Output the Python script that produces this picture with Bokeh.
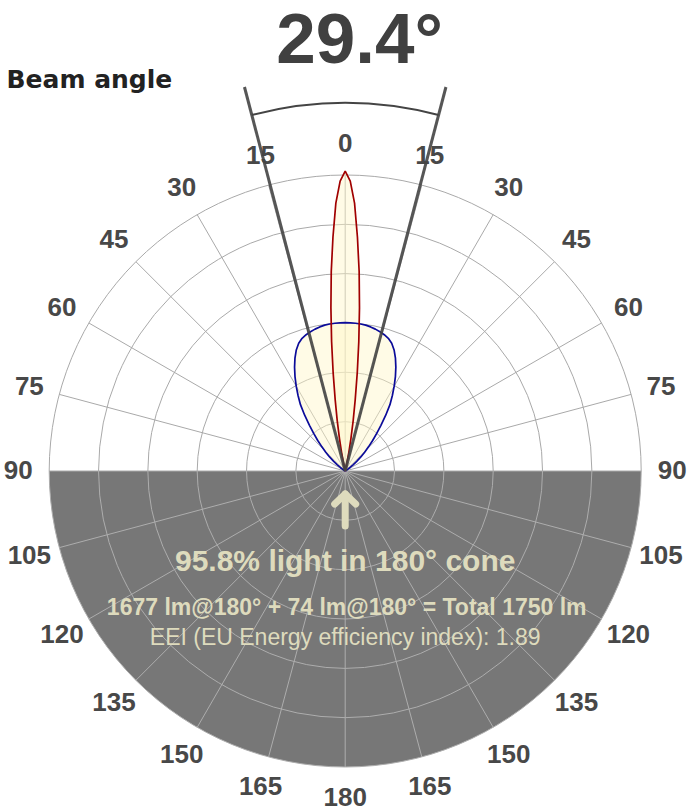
import numpy as np
from bokeh.plotting import figure
from bokeh.models import Range1d
from bokeh.embed import file_html
from bokeh.resources import INLINE
from bokeh.core.properties import value

# ---------------- data ----------------
title_text = "29.4°"
subtitle_text = "Beam angle"
beam_angle_deg = 29.4
ring_cd = [500, 1000, 1500, 2000, 2500, 3000]
grid_step_deg = 15
label_deg = [0, 15, 30, 45, 60, 75, 90, 105, 120, 135, 150, 165, 180]

# narrow beam (red) - intensity in cd vs angle from axis (deg)
narrow_deg = [0, 1, 2, 3, 4, 5, 6, 7, 8, 9, 10, 11, 12, 13, 14]
narrow_cd = [3040, 2939, 2716, 2372, 2027, 1662, 1318, 1003, 730, 517, 334, 193, 91, 30, 0]

# wide beam (blue)
wide_deg = [0, 2, 4, 6, 8, 10, 12, 14, 16, 18, 20, 22, 24, 26, 28, 30,
            32, 34, 36, 38, 40, 42, 44, 46, 48, 50, 52, 54, 56, 58, 60]
wide_cd = [1503, 1503, 1501, 1498, 1493, 1483, 1470, 1455, 1437, 1414, 1378, 1323, 1252, 1171, 1084, 993,
           902, 811, 699, 588, 497, 416, 340, 274, 213, 152, 101, 61, 30, 10, 0]

info_main = "95.8% light in 180° cone"
info_flux = "1677 lm@180° + 74 lm@180° = Total 1750 lm"
info_eei = "EEI (EU Energy efficiency index): 1.89"

# ---------------- layout ----------------
W, H = 689, 812
CX, CY = 344.7, 470.5        # polar centre inside the figure (px)
R_PX = 296                   # outer ring radius in px
RMAX = max(ring_cd)
K = RMAX / R_PX              # cd per px
BL = 0.38                    # baseline correction (fraction of font size)


def px(v):
    return v * K


def base(y_px, fs):
    # data y for a text whose alphabetic baseline should sit y_px above centre
    return px(y_px + BL * fs)


p = figure(width=W, height=H, output_backend="svg", toolbar_location=None,
           x_range=Range1d(-CX * K, (W - CX) * K),
           y_range=Range1d((CY - H) * K, CY * K),
           x_axis_location=None, y_axis_location=None, min_border=0)
p.grid.visible = False
p.outline_line_color = None
p.background_fill_color = "white"
p.border_fill_color = "white"

TOP_GRID = "#a9a9a9"
BOT_GRID = "#adadad"

# lower half shading
p.wedge(x=0, y=0, radius=RMAX, start_angle=np.pi, end_angle=2 * np.pi,
        fill_color="#777777", line_color=None)

# rings
n = len(ring_cd)
p.arc(x=[0] * n, y=[0] * n, radius=ring_cd, start_angle=0, end_angle=np.pi,
      line_color=TOP_GRID, line_width=1)
p.arc(x=[0] * n, y=[0] * n, radius=ring_cd, start_angle=np.pi, end_angle=2 * np.pi,
      line_color=BOT_GRID, line_width=1)

# radial lines
gdeg = np.arange(-180, 180, grid_step_deg)
top = [d for d in gdeg if abs(d) <= 90]
bot = [d for d in gdeg if abs(d) > 90]
for group, col in ((bot, BOT_GRID), (top, TOP_GRID)):
    t = np.deg2rad(np.array(group, dtype=float))
    p.segment(x0=0, y0=0, x1=RMAX * np.sin(t), y1=RMAX * np.cos(t),
              line_color=col, line_width=1)


def lobe(deg, cd):
    d = np.array(deg, dtype=float)
    r = np.array(cd, dtype=float)
    th = np.deg2rad(np.concatenate([-d[::-1], d[1:]]))
    rr = np.concatenate([r[::-1], r[1:]])
    return rr * np.sin(th), rr * np.cos(th)


wx, wy = lobe(wide_deg, wide_cd)
nx, ny = lobe(narrow_deg, narrow_cd)
p.patch(wx, wy, fill_color="#fff6c8", fill_alpha=0.45, line_color=None)
p.patch(nx, ny, fill_color="#fff6c8", fill_alpha=0.45, line_color=None)
p.line(wx, wy, line_color="#0b0b9a", line_width=1.7)
p.line(nx, ny, line_color="#a00000", line_width=1.7)

# angle labels (drawn before beam lines, which pass over them)
LFS = 26
lr = px(327)
lx, ly, lt = [], [], []
for d in label_deg:
    sides = [1] if d in (0, 180) else [-1, 1]
    for s in sides:
        t = np.deg2rad(d) * s
        lx.append(lr * np.sin(t))
        ly.append(lr * np.cos(t) + px((BL - 0.358) * LFS))
        lt.append(str(d))
p.text(x=lx, y=ly, text=lt, text_font=value("Liberation Sans"), text_font_style="bold",
       text_font_size=f"{LFS}px", text_color="#484848", text_align="center",
       text_baseline="alphabetic")

# beam angle lines and arc
half = np.deg2rad(beam_angle_deg / 2)
p.segment(x0=[0, 0], y0=[0, 0],
          x1=[px(397) * np.sin(-half), px(397) * np.sin(half)],
          y1=[px(397) * np.cos(half)] * 2,
          line_color="#444444", line_width=3, line_alpha=0.9)
p.arc(x=0, y=0, radius=px(368), start_angle=np.pi / 2 - half, end_angle=np.pi / 2 + half,
      line_color="#444444", line_width=2)

# title and subtitle
p.text(x=[px(14.3)], y=[base(405.5, 71)], text=[title_text], text_font=value("Liberation Sans"),
       text_font_style="bold", text_font_size="71px", text_color="#404040",
       text_align="center", text_baseline="alphabetic")
p.text(x=[px(-338.7)], y=[base(382.5, 25)], text=[subtitle_text], text_font=value("DejaVu Sans"),
       text_font_style="bold", text_font_size="25px", text_color="#222222",
       text_align="left", text_baseline="alphabetic")

# arrow
ACOL = "#dedbbd"
p.multi_line(xs=[[0, 0], [px(-10.5), 0, px(10.5)]],
             ys=[[px(-23), px(-55)], [px(-33), px(-23), px(-33)]],
             line_color=ACOL, line_width=7, line_cap="round", line_join="round")

# info texts
p.text(x=[0], y=[base(-100.5, 30)], text=[info_main], text_font=value("Liberation Sans"),
       text_font_style="bold", text_font_size="30px", text_color=ACOL,
       text_align="center", text_baseline="alphabetic")
p.text(x=[px(1.5)], y=[base(-144.5, 23)], text=[info_flux], text_font=value("Liberation Sans"),
       text_font_style="bold", text_font_size="23px", text_color=ACOL,
       text_align="center", text_baseline="alphabetic")
p.text(x=[0], y=[base(-174.5, 23)], text=[info_eei], text_font=value("Liberation Sans"),
       text_font_style="normal", text_font_size="23px", text_color=ACOL,
       text_align="center", text_baseline="alphabetic")

open("out.html", "w").write(file_html(p, INLINE))
